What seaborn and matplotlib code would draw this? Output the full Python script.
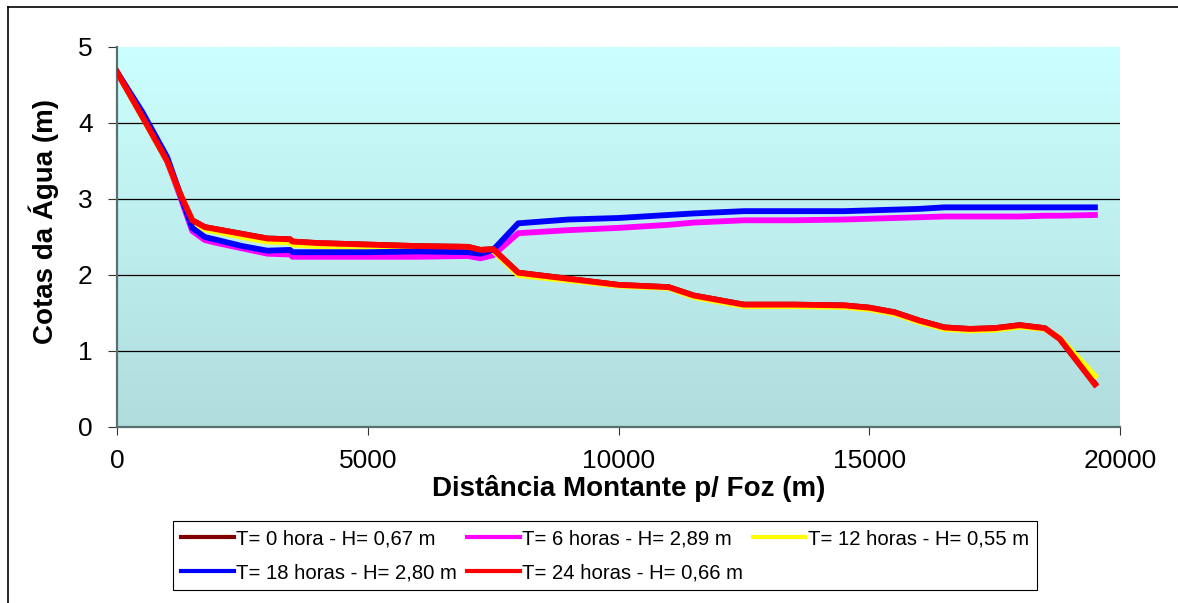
import numpy as np
import pandas as pd
import matplotlib
matplotlib.use("Agg")
import matplotlib.pyplot as plt
from matplotlib.lines import Line2D
import seaborn as sns

plt.rcParams['font.family'] = ['Liberation Sans', 'DejaVu Sans']

# distance upstream from the mouth (m)
distancia = [0, 500, 1000, 1250, 1500, 1750, 2000, 2500, 3000, 3450, 3500, 4000,
             5000, 6000, 7000, 7250, 7500, 8000, 9000, 10000, 11000, 11500,
             12500, 13500, 14500, 15000, 15500, 16000, 16500, 17000, 17500,
             18000, 18500, 18800, 19500]

# water levels (m) for each time
t0 = [4.67, 4.09, 3.50, 3.08, 2.72, 2.63, 2.60, 2.54, 2.48, 2.47, 2.44, 2.42,
      2.40, 2.38, 2.37, 2.33, 2.34, 2.03, 1.95, 1.87, 1.84, 1.73, 1.61, 1.61,
      1.60, 1.57, 1.51, 1.40, 1.31, 1.29, 1.30, 1.34, 1.30, 1.16, 0.57]
t6 = [4.67, 4.12, 3.50, 3.05, 2.58, 2.46, 2.42, 2.35, 2.28, 2.27, 2.24, 2.24,
      2.24, 2.24, 2.25, 2.22, 2.26, 2.55, 2.59, 2.62, 2.66, 2.69, 2.72, 2.72,
      2.73, 2.74, 2.75, 2.76, 2.77, 2.77, 2.77, 2.77, 2.78, 2.78, 2.79]
t12 = [4.67, 4.09, 3.50, 3.08, 2.71, 2.60, 2.57, 2.50, 2.44, 2.43, 2.40, 2.38,
       2.36, 2.35, 2.34, 2.31, 2.32, 2.00, 1.93, 1.86, 1.83, 1.71, 1.59, 1.59,
       1.58, 1.55, 1.49, 1.38, 1.29, 1.27, 1.28, 1.32, 1.29, 1.17, 0.67]
t18 = [4.67, 4.15, 3.55, 3.08, 2.62, 2.50, 2.46, 2.38, 2.32, 2.33, 2.30, 2.30,
       2.30, 2.31, 2.30, 2.28, 2.33, 2.68, 2.73, 2.75, 2.79, 2.81, 2.84, 2.84,
       2.84, 2.85, 2.86, 2.87, 2.89, 2.89, 2.89, 2.89, 2.89, 2.89, 2.89]
t24 = [4.67, 4.09, 3.50, 3.08, 2.72, 2.63, 2.60, 2.54, 2.48, 2.47, 2.44, 2.42,
       2.40, 2.38, 2.37, 2.33, 2.34, 2.03, 1.95, 1.87, 1.84, 1.73, 1.61, 1.61,
       1.60, 1.57, 1.51, 1.40, 1.31, 1.29, 1.30, 1.34, 1.30, 1.16, 0.56]

labels = ["T= 0 hora - H= 0,67 m", "T= 6 horas - H= 2,89 m",
          "T= 12 horas - H= 0,55 m", "T= 18 horas - H= 2,80 m",
          "T= 24 horas - H= 0,66 m"]
colors = ["#800000", "#FF00FF", "#FFFF00", "#0000FF", "#FF0000"]
series = [t0, t6, t12, t18, t24]

frames = []
for lab, vals in zip(labels, series):
    frames.append(pd.DataFrame({"Distancia": distancia, "Cota": vals, "Serie": lab}))
df = pd.concat(frames, ignore_index=True)

fig = plt.figure(figsize=(11.78, 6.03), dpi=100)
ax = fig.add_axes([117 / 1178, 1 - 427 / 603, 1003 / 1178, 380 / 603])

# gradient background of the plot area
grad = np.linspace(0, 1, 256).reshape(-1, 1)
top = np.array([0.80, 1.0, 1.0])
bot = np.array([0.69, 0.865, 0.865])
img = bot + (top - bot) * grad
ax.imshow(img[:, None, :].repeat(2, axis=1), extent=[0, 20000, 0, 5],
          origin="lower", aspect="auto", zorder=0)

for y in [1, 2, 3, 4]:
    ax.axhline(y, color="black", lw=0.9, zorder=1)

sns.lineplot(data=df, x="Distancia", y="Cota", hue="Serie", hue_order=labels,
             palette=dict(zip(labels, colors)), linewidth=4.2, sort=False,
             estimator=None, legend=False, ax=ax, zorder=3)

ax.set_xlim(0, 20000)
ax.set_ylim(0, 5)
ax.set_xticks([0, 5000, 10000, 15000, 20000])
ax.set_yticks([0, 1, 2, 3, 4, 5])
ax.tick_params(axis="both", labelsize=19, color="#333333")
ax.tick_params(axis="y", length=6.5, pad=11)
ax.tick_params(axis="x", length=6, pad=10)

for s in ["top", "right"]:
    ax.spines[s].set_visible(False)
for s in ["left", "bottom"]:
    ax.spines[s].set_color("#5a7070")
    ax.spines[s].set_linewidth(1.6)

ax.set_xlabel("Distância Montante p/ Foz (m)", fontsize=20, fontweight="bold")
ax.set_ylabel("Cotas da Água (m)", fontsize=20, fontweight="bold")
ax.xaxis.set_label_coords(0.51, -0.126)
ax.yaxis.set_label_coords(-0.058, 0.54)

# legend filled row by row like the original: reorder for column-major layout
order = [0, 3, 1, 4, 2]
handles = [Line2D([0], [0], color=colors[i], lw=3) for i in order]
leg = fig.legend(handles, [labels[i] for i in order], loc="upper left",
                 bbox_to_anchor=(173 / 1178, 1 - 521 / 603), ncol=3,
                 fontsize=14.6, frameon=True, fancybox=False, framealpha=1,
                 edgecolor="black", borderpad=0.4, borderaxespad=0,
                 handlelength=2.6, handletextpad=0.1, columnspacing=0.5,
                 labelspacing=0.75)
leg.get_frame().set_linewidth(0.8)

# outer chart border (left and top visible)
fig.add_artist(Line2D([8 / 1178, 8 / 1178], [0, 1 - 7 / 603], color="black", lw=1.2,
                      transform=fig.transFigure))
fig.add_artist(Line2D([8 / 1178, 1], [1 - 7 / 603, 1 - 7 / 603], color="black", lw=1.2,
                      transform=fig.transFigure))

fig.savefig("out.png", dpi=100)
